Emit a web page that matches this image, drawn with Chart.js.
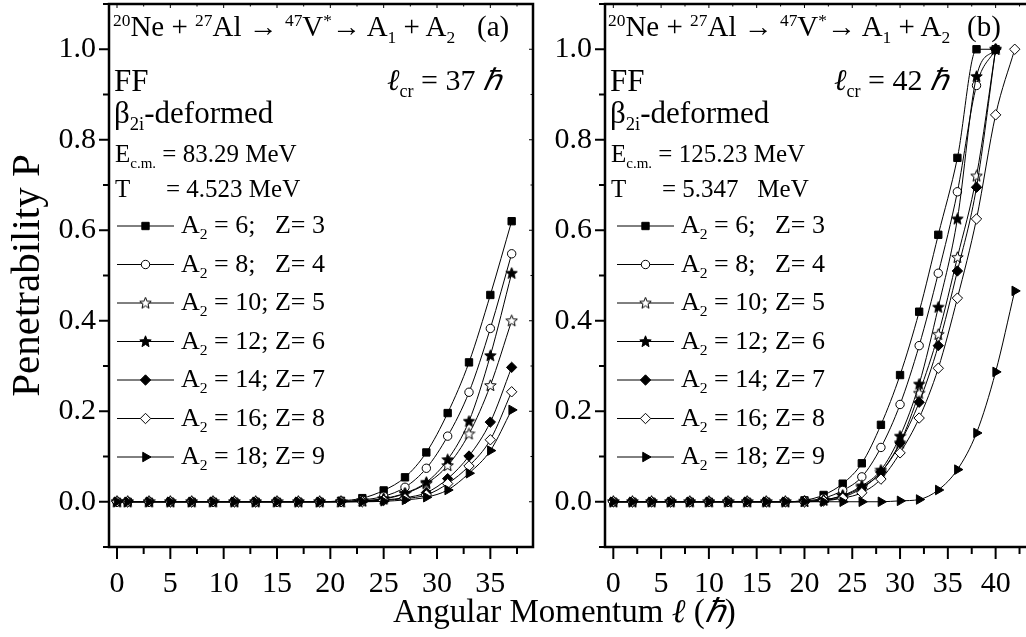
<!DOCTYPE html>
<html>
<head>
<meta charset="utf-8">
<script src="https://cdn.jsdelivr.net/npm/chart.js@4.4.1/dist/chart.umd.min.js"></script>
<style>
html, body { margin: 0; padding: 0; background: #fff; overflow: hidden; }
#wrap { position: relative; width: 1026px; height: 637px; overflow: hidden; }
canvas { position: absolute; top: -3px; }
#chartA { left: 0; }
#chartB { left: 545px; }
.t { position: absolute; font-family: 'Liberation Serif', 'Times New Roman', serif; line-height: 1; white-space: pre; color: #000; }
.t .sp { position: relative; top: -0.55em; font-size: 0.6em; }
.t .sb { position: relative; top: 0.4em; font-size: 0.6em; }
.t i { font-style: italic; }
</style>
</head>
<body>
<div id="wrap">
<canvas id="chartA" width="545" height="640"></canvas>
<canvas id="chartB" width="500" height="640"></canvas>

<!-- panel (a) annotations -->
<div class="t" style="left:113px;top:12px;font-size:29px"><span class="sp">20</span>Ne + <span class="sp">27</span>Al → <span class="sp">47</span>V<span class="sp">*</span>→ A<span class="sb">1</span> + A<span class="sb">2</span></div>
<div class="t" style="left:477px;top:12px;font-size:29px">(a)</div>
<div class="t" style="left:114px;top:65px;font-size:31px">FF</div>
<div class="t" style="left:387px;top:65px;font-size:30px"><i>ℓ</i><span class="sb">cr</span> = 37 <i>ℏ</i></div>
<div class="t" style="left:114px;top:97px;font-size:31px">β<span class="sb">2i</span>-deformed</div>
<div class="t" style="left:115px;top:141px;font-size:25px">E<span class="sb">c.m.</span> = 83.29 MeV</div>
<div class="t" style="left:115px;top:176px;font-size:25px">T</div>
<div class="t" style="left:166px;top:176px;font-size:25px">= 4.523 MeV</div>

<!-- panel (b) annotations -->
<div class="t" style="left:608px;top:12px;font-size:29px"><span class="sp">20</span>Ne + <span class="sp">27</span>Al → <span class="sp">47</span>V<span class="sp">*</span>→ A<span class="sb">1</span> + A<span class="sb">2</span></div>
<div class="t" style="left:967px;top:12px;font-size:29px">(b)</div>
<div class="t" style="left:610px;top:65px;font-size:31px">FF</div>
<div class="t" style="left:834px;top:65px;font-size:30px"><i>ℓ</i><span class="sb">cr</span> = 42 <i>ℏ</i></div>
<div class="t" style="left:610px;top:97px;font-size:31px">β<span class="sb">2i</span>-deformed</div>
<div class="t" style="left:611px;top:141px;font-size:25px">E<span class="sb">c.m.</span> = 125.23 MeV</div>
<div class="t" style="left:611px;top:176px;font-size:25px">T</div>
<div class="t" style="left:662px;top:176px;font-size:25px">= 5.347   MeV</div>

<div id="legA"></div>
<div id="legB"></div>

<div class="t" style="left:393px;top:595px;font-size:33px">Angular Momentum <i>ℓ</i> (<i>ℏ</i>)</div>
</div>

<script>
// angular momentum values (hbar) used in each panel
const ellA = [0, 1, 3, 5, 7, 9, 11, 13, 15, 17, 19, 21, 23, 25, 27, 29, 31, 33, 35, 37];
const ellB = [0, 2, 4, 6, 8, 10, 12, 14, 16, 18, 20, 22, 24, 26, 28, 30, 32, 34, 36, 38, 40, 42];

// legend names
const fragments = ['A2 = 6;   Z= 3', 'A2 = 8;   Z= 4', 'A2 = 10; Z= 5', 'A2 = 12; Z= 6',
                   'A2 = 14; Z= 7', 'A2 = 16; Z= 8', 'A2 = 18; Z= 9'];

// panel (a): E_cm = 83.29 MeV, l_cr = 37
const pA6  = [0, 0, 0, 0, 0, 0, 0, 0, 0, 0, 0, 0.002, 0.008, 0.025, 0.054, 0.109, 0.196, 0.308, 0.457, 0.620];
const pA8  = [0, 0, 0, 0, 0, 0, 0, 0, 0, 0, 0, 0.001, 0.004, 0.012, 0.032, 0.074, 0.145, 0.242, 0.383, 0.548];
const pA10 = [0, 0, 0, 0, 0, 0, 0, 0, 0, 0, 0, 0, 0.002, 0.006, 0.018, 0.040, 0.080, 0.150, 0.257, 0.400];
const pA12 = [0, 0, 0, 0, 0, 0, 0, 0, 0, 0, 0, 0, 0.002, 0.007, 0.019, 0.043, 0.093, 0.178, 0.323, 0.505];
const pA14 = [0, 0, 0, 0, 0, 0, 0, 0, 0, 0, 0, 0, 0.001, 0.004, 0.009, 0.020, 0.051, 0.101, 0.176, 0.297];
const pA16 = [0, 0, 0, 0, 0, 0, 0, 0, 0, 0, 0, 0, 0, 0.003, 0.007, 0.015, 0.040, 0.079, 0.137, 0.243];
const pA18 = [0, 0, 0, 0, 0, 0, 0, 0, 0, 0, 0, 0, 0, 0.001, 0.004, 0.010, 0.026, 0.063, 0.113, 0.203];

// panel (b): E_cm = 125.23 MeV, l_cr = 42 (shorter lists stop before 42)
const pB6  = [0, 0, 0, 0, 0, 0, 0, 0, 0, 0, 0.003, 0.015, 0.040, 0.085, 0.170, 0.280, 0.420, 0.590, 0.760, 1.0, 1.0];
const pB8  = [0, 0, 0, 0, 0, 0, 0, 0, 0, 0, 0.002, 0.008, 0.025, 0.055, 0.120, 0.215, 0.345, 0.505, 0.685, 0.920, 1.0];
const pB10 = [0, 0, 0, 0, 0, 0, 0, 0, 0, 0, 0.001, 0.004, 0.013, 0.032, 0.065, 0.130, 0.240, 0.370, 0.540, 0.720, 1.0];
const pB12 = [0, 0, 0, 0, 0, 0, 0, 0, 0, 0, 0.001, 0.004, 0.014, 0.035, 0.070, 0.145, 0.260, 0.430, 0.625, 0.940, 1.0];
const pB14 = [0, 0, 0, 0, 0, 0, 0, 0, 0, 0, 0, 0.003, 0.010, 0.030, 0.065, 0.130, 0.220, 0.345, 0.510, 0.695, 1.0];
const pB16 = [0, 0, 0, 0, 0, 0, 0, 0, 0, 0, 0, 0.002, 0.008, 0.020, 0.050, 0.108, 0.185, 0.295, 0.450, 0.625, 0.855, 1.0];
const pB18 = [0, 0, 0, 0, 0, 0, 0, 0, 0, 0, 0, 0, 0, 0, 0, 0.002, 0.005, 0.026, 0.071, 0.152, 0.287, 0.466];

const FONT = "'Liberation Serif', 'Times New Roman', serif";
Chart.defaults.font.family = FONT;
Chart.defaults.color = '#000';

const CANVAS_SHIFT = 3; // canvases sit 3px above the page top

// five point star markers (Chart.js 'star' is an asterisk)
function makeStar(filled) {
    const c = document.createElement('canvas');
    c.width = 13; c.height = 13;
    const g = c.getContext('2d');
    g.beginPath();
    for (let k = 0; k < 10; k++) {
        const r = k % 2 === 0 ? 6 : 2.6;
        const a = -Math.PI / 2 + k * Math.PI / 5;
        const px = 6.5 + r * Math.cos(a), py = 6.8 + r * Math.sin(a);
        if (k === 0) g.moveTo(px, py); else g.lineTo(px, py);
    }
    g.closePath();
    g.fillStyle = filled ? '#000' : '#fff';
    g.fill();
    g.strokeStyle = '#000';
    g.lineWidth = 1;
    g.stroke();
    return c;
}

const markers = [
    { style: 'rect', radius: 5.2, rot: 0, bg: '#000' },
    { style: 'circle', radius: 4.2, rot: 0, bg: '#fff' },
    { style: makeStar(false), radius: 6, rot: 0, bg: '#fff' },
    { style: makeStar(true), radius: 6, rot: 0, bg: '#000' },
    { style: 'rectRot', radius: 5.2, rot: 0, bg: '#000' },
    { style: 'rectRot', radius: 5.2, rot: 0, bg: '#fff' },
    { style: 'triangle', radius: 5.5, rot: 90, bg: '#000' }
];

const isMult = (v, s) => Math.abs(v / s - Math.round(v / s)) < 1e-6;

// box around the plot plus outer major/minor ticks and small inner ticks
const frameAndTicks = {
    id: 'frameAndTicks',
    afterDraw(chart) {
        const { ctx, chartArea: a, scales: { x, y } } = chart;
        ctx.save();
        ctx.strokeStyle = '#000';
        const seg = (x1, y1, x2, y2) => { ctx.beginPath(); ctx.moveTo(x1, y1); ctx.lineTo(x2, y2); ctx.stroke(); };
        ctx.lineWidth = 2;
        x.ticks.forEach(t => {
            const px = x.getPixelForValue(t.value);
            const major = isMult(t.value, 5);
            seg(px, a.bottom, px, a.bottom + (major ? 12 : 7));
            ctx.lineWidth = 1;
            seg(px, a.top, px, a.top + (major ? 4 : 2.5));
            ctx.lineWidth = 2;
        });
        y.ticks.forEach(t => {
            const py = y.getPixelForValue(t.value);
            const major = isMult(t.value, 0.2);
            seg(a.left, py, a.left - (major ? 10 : 6), py);
            ctx.lineWidth = 1;
            seg(a.right, py, a.right - (major ? 4 : 2.5), py);
            ctx.lineWidth = 2;
        });
        ctx.lineWidth = 2.5;
        ctx.strokeRect(a.left, a.top, a.right - a.left, a.bottom - a.top);
        ctx.restore();
    }
};

// legend samples: short line with the marker in the middle
const sampleLegend = {
    id: 'sampleLegend',
    afterDraw(chart, args, opts) {
        const ctx = chart.ctx;
        chart.data.datasets.forEach((ds, i) => {
            const yy = opts.rows[i] + CANVAS_SHIFT;
            ctx.save();
            ctx.strokeStyle = '#000';
            ctx.lineWidth = 1;
            ctx.beginPath();
            ctx.moveTo(opts.x0, yy);
            ctx.lineTo(opts.x1, yy);
            ctx.stroke();
            ctx.fillStyle = ds.pointBackgroundColor;
            Chart.helpers.drawPoint(ctx, {
                pointStyle: ds.pointStyle, radius: ds.pointRadius,
                rotation: ds.pointRotation || 0, borderWidth: 1
            }, (opts.x0 + opts.x1) / 2, yy);
            ctx.restore();
        });
    }
};

const legendRows = [226, 264.5, 303, 341.5, 380, 418.5, 457];

function buildDatasets(ell, lists) {
    return lists.map((vals, i) => ({
        label: fragments[i],
        data: vals.map((v, k) => ({ x: ell[k], y: v })),
        borderColor: '#000',
        borderWidth: 1,
        pointStyle: markers[i].style,
        pointRadius: markers[i].radius,
        pointRotation: markers[i].rot,
        pointBackgroundColor: markers[i].bg,
        pointBorderColor: '#000',
        pointBorderWidth: 1,
        cubicInterpolationMode: 'monotone',
        fill: false,
        order: lists.length - i
    }));
}

function makePanel(id, ell, lists, xMin, xMax, yWidth, padRight, legendX0, showTitle) {
    return new Chart(document.getElementById(id), {
        type: 'line',
        data: { datasets: buildDatasets(ell, lists) },
        options: {
            responsive: false,
            animation: false,
            layout: { padding: { top: 0, right: padRight, left: 0, bottom: 0 } },
            plugins: {
                legend: { display: false },
                tooltip: { enabled: false },
                sampleLegend: { x0: legendX0, x1: legendX0 + 57, rows: legendRows }
            },
            scales: {
                x: {
                    type: 'linear',
                    min: xMin,
                    max: xMax,
                    grid: { display: false, drawTicks: false },
                    border: { display: false },
                    afterFit: s => { s.height = 90; s.paddingLeft = 0; s.paddingRight = 0; },
                    ticks: {
                        stepSize: 2.5,
                        includeBounds: false,
                        autoSkip: false,
                        maxRotation: 0,
                        padding: 19,
                        font: { size: 30 },
                        callback: v => isMult(v, 5) ? String(Math.round(v)) : ''
                    }
                },
                y: {
                    min: -0.1,
                    max: 1.1,
                    grid: { display: false, drawTicks: false },
                    border: { display: false },
                    afterFit: s => { s.width = yWidth; s.paddingTop = 0; s.paddingBottom = 0; },
                    title: {
                        display: showTitle,
                        text: 'Penetrability P',
                        font: { size: 41 },
                        padding: { top: 4, bottom: 0 }
                    },
                    ticks: {
                        stepSize: 0.1,
                        includeBounds: false,
                        autoSkip: false,
                        padding: 13,
                        font: { size: 30 },
                        callback: v => (isMult(v, 0.2) && v > -0.05 && v < 1.05) ? v.toFixed(1) : ''
                    }
                }
            }
        },
        plugins: [frameAndTicks, sampleLegend]
    });
}

makePanel('chartA', ellA, [pA6, pA8, pA10, pA12, pA14, pA16, pA18], -0.75, 39, 109, 12, 117, true);
// the right side of panel (b) runs off the picture, as in the original figure
makePanel('chartB', ellB, [pB6, pB8, pB10, pB12, pB14, pB16, pB18], -0.87, 43.91, 60, 12, 72, false);

// legend text as html so the A2 subscript can be set
function legendText(boxId, left) {
    const box = document.getElementById(boxId);
    fragments.forEach((f, i) => {
        const d = document.createElement('div');
        d.className = 't';
        d.style.left = left + 'px';
        d.style.top = (legendRows[i] - 14) + 'px';
        d.style.fontSize = '26px';
        d.innerHTML = 'A<span class="sb">2</span>' + f.slice(2);
        box.appendChild(d);
    });
}
legendText('legA', 181);
legendText('legB', 681);
</script>
</body>
</html>
